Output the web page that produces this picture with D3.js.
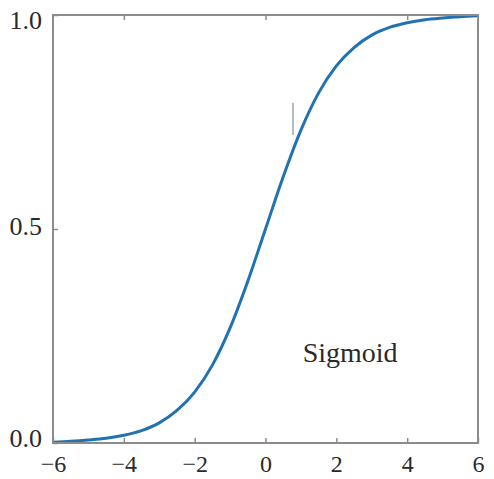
<!DOCTYPE html>
<html>
<head>
<meta charset="utf-8">
<script src="https://cdn.jsdelivr.net/npm/d3@7"></script>
<style>
  body { margin: 0; background: #fff; }
  text { font-family: "Liberation Serif", "Times New Roman", serif; fill: #2a2a2a; }
</style>
</head>
<body>
<svg id="chart" width="494" height="479"></svg>
<script>
// values
var xs = [-6, -5.5, -5, -4.5, -4, -3.5, -3, -2.5, -2, -1.5, -1, -0.5, 0,
          0.5, 1, 1.5, 2, 2.5, 3, 3.5, 4, 4.5, 5, 5.5, 6];
var ys = [0.002, 0.004, 0.007, 0.011, 0.018, 0.029, 0.047, 0.076, 0.119, 0.182, 0.269, 0.378, 0.5,
          0.622, 0.731, 0.818, 0.881, 0.924, 0.953, 0.971, 0.982, 0.989, 0.993, 0.996, 0.998];
var xTicks = [-6, -4, -2, 0, 2, 4, 6];
var topTicks = [-4, 0, 4];
var yTicks = [0, 0.5, 1];
var label = "Sigmoid";

var svg = d3.select("#chart");
var margin = { top: 15, right: 16, bottom: 36, left: 53 };
var w = 494 - margin.left - margin.right,
    h = 479 - margin.top - margin.bottom;

var x = d3.scaleLinear().domain([-6, 6]).range([0, w]);
var y = d3.scaleLinear().domain([0, 1]).range([h, 0]);

var g = svg.append("g").attr("transform", "translate(" + margin.left + "," + margin.top + ")");

var frameColor = "#8c8c8c";
var fontSize = 26;
var serif = "\"Liberation Serif\", \"Times New Roman\", serif";

// curve
var pts = xs.map(function (d, i) { return [d, ys[i]]; });
g.append("path")
  .datum(pts)
  .attr("fill", "none")
  .attr("stroke", "#2272b0")
  .attr("stroke-width", 3)
  .attr("d", d3.line().x(function (d) { return x(d[0]); }).y(function (d) { return y(d[1]); }).curve(d3.curveMonotoneX));

// frame
g.append("rect")
  .attr("x", 0).attr("y", 0).attr("width", w).attr("height", h)
  .attr("fill", "none").attr("stroke", frameColor).attr("stroke-width", 2);

// bottom axis
var xAxis = g.append("g").attr("transform", "translate(0," + h + ")")
  .call(d3.axisBottom(x).tickValues(xTicks).tickSizeInner(-5).tickSizeOuter(0).tickPadding(12)
    .tickFormat(function (d) { return d < 0 ? "\u2212" + Math.abs(d) : d; }));
xAxis.attr("font-family", serif);
xAxis.select(".domain").remove();
xAxis.selectAll("line").attr("stroke", frameColor).attr("stroke-width", 1.5);
xAxis.selectAll("text").attr("font-size", 24).attr("fill", "#2a2a2a")
  .style("font-family", serif);

// top ticks
var topAxis = g.append("g")
  .call(d3.axisTop(x).tickValues(topTicks).tickSizeInner(-5).tickSizeOuter(0).tickFormat(""));
topAxis.select(".domain").remove();
topAxis.selectAll("line").attr("stroke", frameColor).attr("stroke-width", 1.5);

// left axis
var yAxis = g.append("g")
  .call(d3.axisLeft(y).tickValues(yTicks).tickSizeInner(-5).tickSizeOuter(0).tickPadding(11)
    .tickFormat(d3.format(".1f")));
yAxis.attr("font-family", serif);
yAxis.select(".domain").remove();
yAxis.selectAll("line").attr("stroke", frameColor).attr("stroke-width", 1.5);
yAxis.selectAll("text").attr("font-size", fontSize).attr("fill", "#2a2a2a")
  .style("font-family", serif)
  .attr("dy", function (d) { return d === 1 ? 13 : d === 0 ? 3 : 5; });

// label
g.append("text")
  .attr("x", x(1.05)).attr("y", y(0.19))
  .attr("font-size", 28).attr("fill", "#2a2a2a")
  .style("font-family", serif)
  .text(label);

// stray mark in the picture
g.append("line")
  .attr("x1", 240).attr("x2", 240).attr("y1", 88).attr("y2", 120)
  .attr("stroke", "#777").attr("stroke-width", 1);
</script>
</body>
</html>
